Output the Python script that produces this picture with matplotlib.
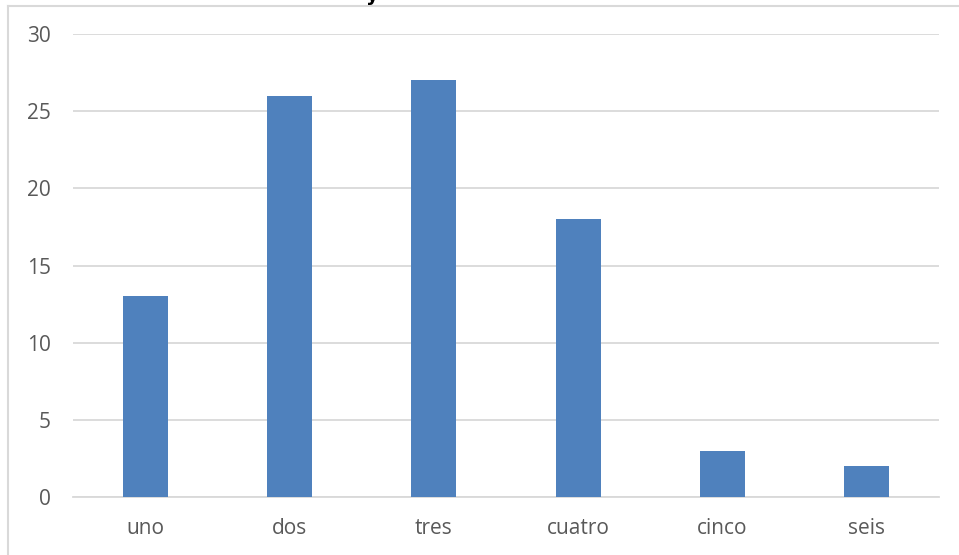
import matplotlib
matplotlib.use('Agg')
import matplotlib.pyplot as plt
from matplotlib.lines import Line2D
import numpy as np

# dati
categorie = ['uno', 'dos', 'tres', 'cuatro', 'cinco', 'seis']
valori = [13, 26, 27, 18, 3, 2]
tick_y = [0, 5, 10, 15, 20, 25, 30]

W, H = 959, 555
fig = plt.figure(figsize=(W / 100, H / 100), dpi=100)
ax = fig.add_axes([73 / W, 1 - 497 / H, (939 - 73) / W, (497 - 34) / H])

x = np.arange(len(categorie))
ax.bar(x, valori, width=0.31, color='#4f81bd', zorder=3)

ax.set_xlim(-0.5, len(categorie) - 0.5)
ax.set_ylim(0, 30)
ax.set_yticks(tick_y)
ax.set_xticks(x)
ax.set_xticklabels(categorie)
ax.grid(axis='y', color='#d9d9d9', linewidth=1.3, zorder=0)
for s in ['top', 'right', 'left']:
    ax.spines[s].set_visible(False)
ax.spines['bottom'].set_color('#d9d9d9')
ax.spines['bottom'].set_linewidth(1.3)
ax.tick_params(length=0, labelsize=15, colors='#595959')
ax.tick_params(axis='x', pad=15)
ax.tick_params(axis='y', pad=16)
for lab in ax.get_xticklabels() + ax.get_yticklabels():
    lab.set_family('Open Sans')

# bordo del riquadro (tagliato a destra e in basso)
fig.add_artist(Line2D([8 / W, 8 / W], [0, 1 - 6 / H], transform=fig.transFigure,
                      color='#d9d9d9', linewidth=1.5))
fig.add_artist(Line2D([8 / W, 1], [1 - 6 / H, 1 - 6 / H], transform=fig.transFigure,
                      color='#d9d9d9', linewidth=1.5))

# resto del titolo tagliato
fig.text(372 / W, 1 - 1 / H, 'y', ha='center', va='baseline', fontsize=14,
         fontweight='bold', color='#000000')

fig.savefig('out.png', dpi=100)
